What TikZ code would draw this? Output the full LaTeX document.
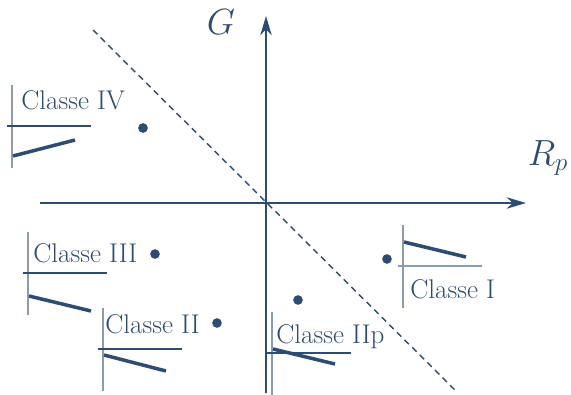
\documentclass[tikz,border=0pt]{standalone}
\usepackage{xcolor}
\usepackage{tikz}
\usetikzlibrary{arrows.meta}
\definecolor{ink}{HTML}{2E4B73}
\definecolor{pale}{HTML}{8C9BB4}

\begin{document}
\begin{tikzpicture}[x=0.02cm,y=-0.02cm,ink,
  axis/.style={line width=1.1pt,-{Stealth[length=11pt,width=6.5pt,inset=3.5pt]}},
  lbl/.style={inner sep=0pt,anchor=base west,font=\fontsize{15.4}{18}\selectfont},
  dot/.style={circle,fill=ink,inner sep=0pt,minimum size=5.5pt},
  slope/.style={line width=2pt}]
\useasboundingbox (0,0) rectangle (571,395);
% axes
\coordinate (o) at (266,203);
\coordinate (xa) at (40,203); \coordinate (xb) at (526,203);
\coordinate (ya) at (266,393); \coordinate (yb) at (266,16);
\draw[axis] (xa)--(xb);
\draw[axis] (ya)--(yb);
\node (G) at (221,22) {\fontsize{22}{25}\selectfont$G$};
\node (Rp) at (548,158) {\fontsize{20}{23}\selectfont$R_p$};
\coordinate (da) at (93,30); \coordinate (db) at (455,390);
\draw[dashed,line width=0.8pt,dash pattern=on 3.5pt off 2.6pt] (da)--(db);
% points
\node[dot] (pIV) at (143,128) {};
\node[dot] (pIII) at (155,254) {};
\node[dot] (pII) at (217,323) {};
\node[dot] (pIIp) at (298,300) {};
\node[dot] (pI) at (387,259) {};
% small sketches
\foreach \vx/\tp/\ya/\yb/\hc in {12/85/156/140/ink,28/232/296/311/ink,103/308/355/371/ink,272/312/349/364/ink,403/225/242/257/pale}{
  \draw[pale,line width=0.9pt] (\vx,\tp)--(\vx,\tp+83);
  \draw[\hc,line width=0.8pt] (\vx-5,\tp+41)--(\vx+79,\tp+41);
  \draw[slope] (\vx+1,\ya)--(\vx+63,\yb);
}
\node[lbl] (cIV) at (21,110) {Classe IV};
\node[lbl] (cIII) at (33,262) {Classe III};
\node[lbl] (cII) at (105,333) {Classe II};
\node[lbl] (cIIp) at (276,343) {Classe IIp};
\node[lbl] (cI) at (410,298) {Classe I};
\end{tikzpicture}
\end{document}
